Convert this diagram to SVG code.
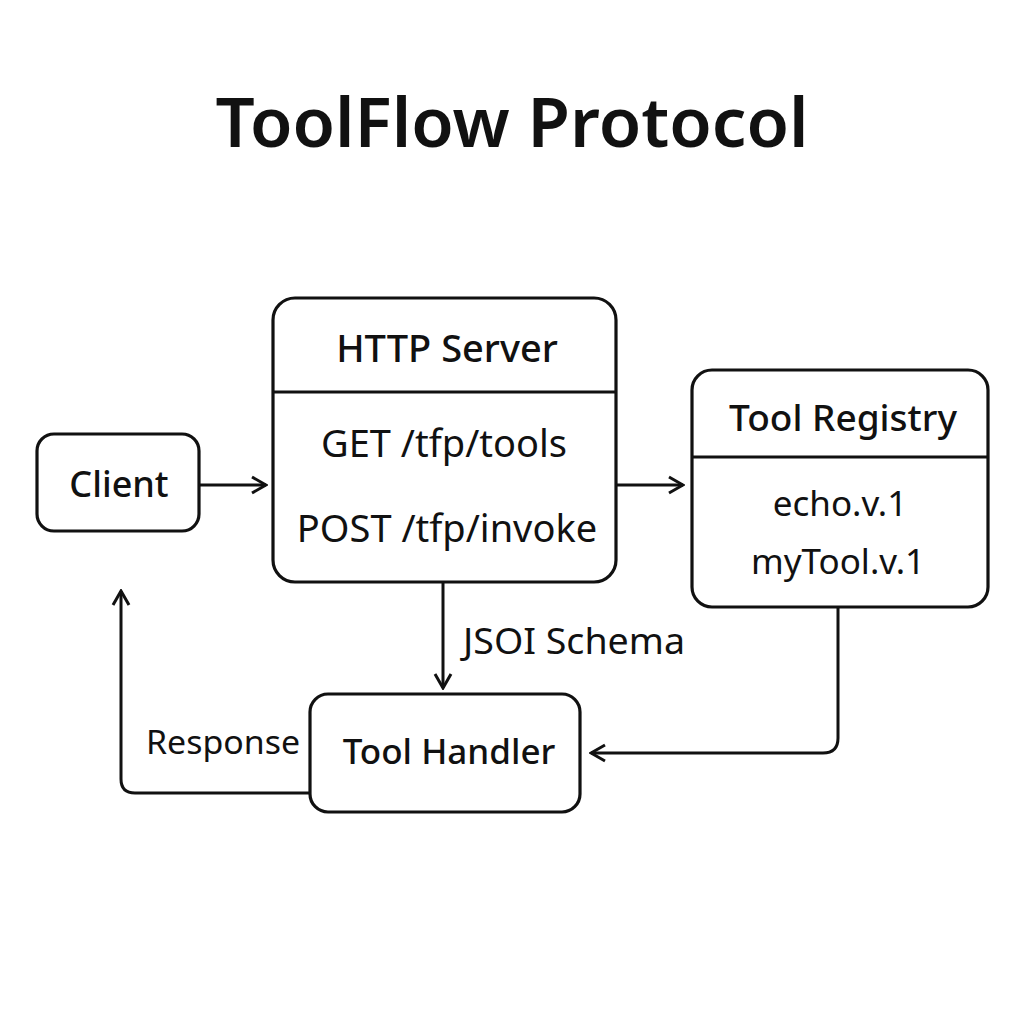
<svg xmlns="http://www.w3.org/2000/svg" width="1024" height="1024" viewBox="0 0 1024 1024">
<defs>
<style>
.box{fill:#fff;stroke:#111;stroke-width:3.2}
.ln{fill:none;stroke:#111;stroke-width:3}
.t{font-family:"Noto Sans","Open Sans",sans-serif;fill:#111;text-anchor:middle;dominant-baseline:central}
.h{font-weight:500}
</style>
<marker id="ah" viewBox="0 0 20 20" refX="18" refY="10" markerWidth="20" markerHeight="20" markerUnits="userSpaceOnUse" orient="auto">
<path d="M4,2 L18,10 L4,18" fill="none" stroke="#111" stroke-width="3" stroke-linejoin="miter"/>
</marker>
</defs>
<rect width="1024" height="1024" fill="#fff"/>
<text class="t" x="512" y="120" style="font-size:69px;font-weight:600">ToolFlow Protocol</text>

<g id="connectors">
<line class="ln" x1="199" y1="485" x2="266" y2="485" marker-end="url(#ah)"/>
<line class="ln" x1="616" y1="485" x2="683" y2="485" marker-end="url(#ah)"/>
<line class="ln" x1="443" y1="582" x2="443" y2="688" marker-end="url(#ah)"/>
<path class="ln" d="M838,607 V738 Q838,753 823,753 H591" marker-end="url(#ah)"/>
<path class="ln" d="M310,793 H135 Q121,793 121,779 V591" marker-end="url(#ah)"/>
<text class="t" x="463" y="640" style="text-anchor:start;font-size:36px" textLength="222" lengthAdjust="spacingAndGlyphs">JSOI Schema</text>
<text class="t" x="223" y="741" style="font-size:33px" textLength="154" lengthAdjust="spacingAndGlyphs">Response</text>
</g>

<g id="client">
<rect class="box" x="37" y="434" width="162" height="97" rx="17"/>
<text class="t h" x="119" y="483" style="font-size:36px">Client</text>
</g>

<g id="http-server">
<rect class="box" x="273" y="298" width="343" height="284" rx="22"/>
<line class="ln" x1="273" y1="392" x2="616" y2="392"/>
<text class="t h" x="447" y="347" style="font-size:38px">HTTP Server</text>
<text class="t" x="444" y="442" style="font-size:38px">GET /tfp/tools</text>
<text class="t" x="447" y="527" style="font-size:38px">POST /tfp/invoke</text>
</g>

<g id="tool-registry">
<rect class="box" x="692" y="370" width="296" height="237" rx="20"/>
<line class="ln" x1="692" y1="457" x2="988" y2="457"/>
<text class="t h" x="843" y="416" style="font-size:37px">Tool Registry</text>
<text class="t" x="840" y="502" style="font-size:35px">echo.v.1</text>
<text class="t" x="838" y="560" style="font-size:35px">myTool.v.1</text>
</g>

<g id="tool-handler">
<rect class="box" x="310" y="694" width="270" height="118" rx="18"/>
<text class="t h" x="449" y="750" style="font-size:35px">Tool Handler</text>
</g>
</svg>
